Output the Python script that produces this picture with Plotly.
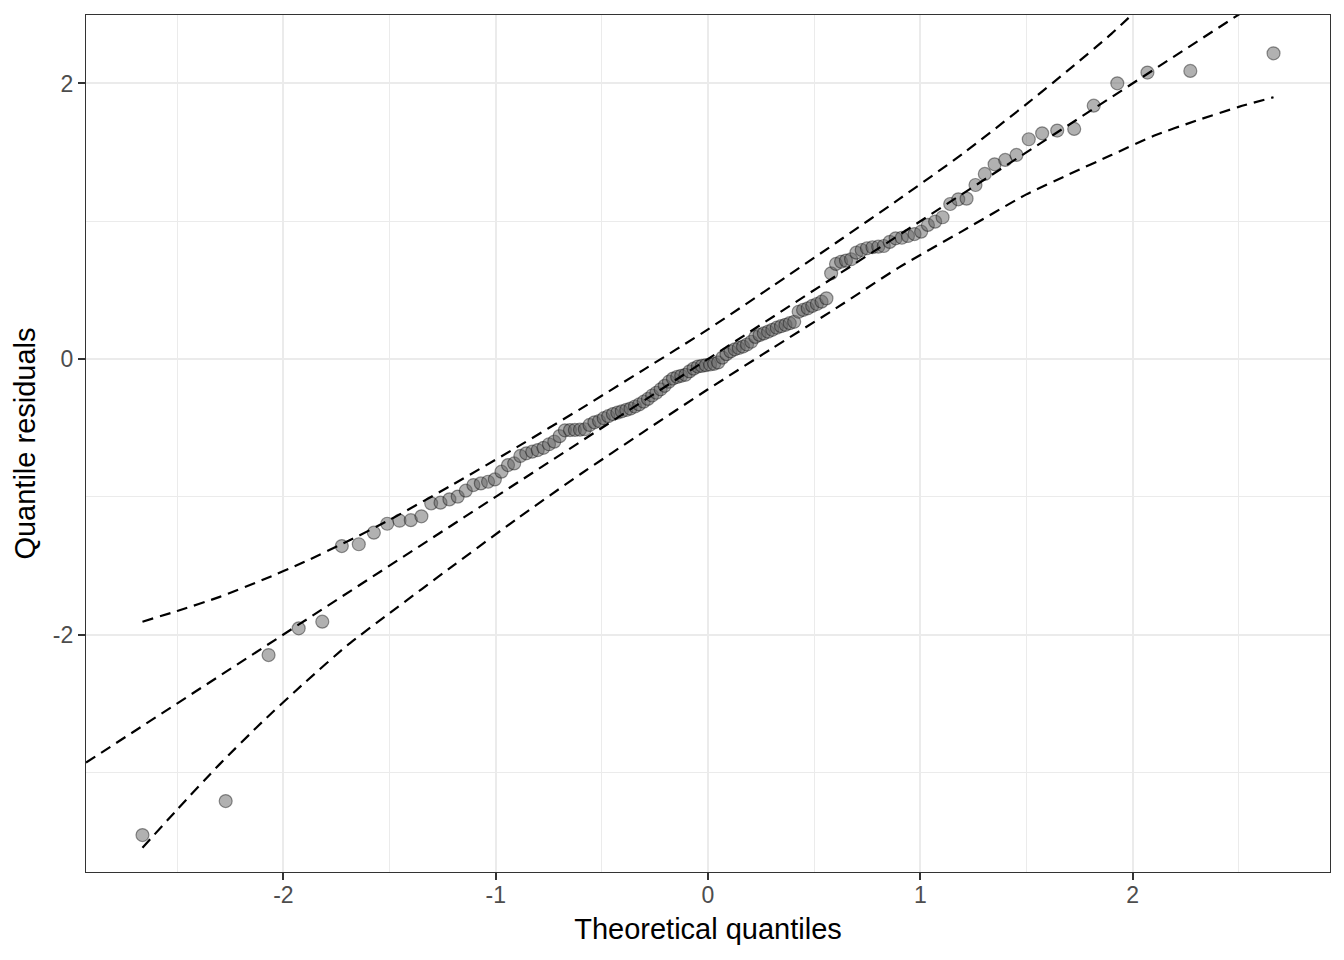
import plotly.graph_objects as go

# Theoretical normal quantiles (x of each point)
theoretical = [
    -2.664, -2.272, -2.070, -1.928, -1.817, -1.725, -1.645, -1.574, -1.511, -1.453,
    -1.400, -1.350, -1.304, -1.260, -1.218, -1.179, -1.141, -1.105, -1.070, -1.036,
    -1.004, -0.973, -0.942, -0.913, -0.884, -0.856, -0.828, -0.802, -0.775, -0.749,
    -0.724, -0.699, -0.674, -0.650, -0.627, -0.603, -0.580, -0.558, -0.535, -0.513,
    -0.491, -0.470, -0.448, -0.427, -0.406, -0.385, -0.365, -0.344, -0.324, -0.303,
    -0.283, -0.263, -0.243, -0.223, -0.204, -0.184, -0.165, -0.145, -0.126, -0.106,
    -0.087, -0.068, -0.048, -0.029, -0.010,
    0.010, 0.029, 0.048, 0.068, 0.087, 0.106, 0.126, 0.145, 0.165, 0.184,
    0.204, 0.223, 0.243, 0.263, 0.283, 0.303, 0.324, 0.344, 0.365, 0.385,
    0.406, 0.427, 0.448, 0.470, 0.491, 0.513, 0.535, 0.558, 0.580, 0.603,
    0.627, 0.650, 0.674, 0.699, 0.724, 0.749, 0.775, 0.802, 0.828, 0.856,
    0.884, 0.913, 0.942, 0.973, 1.004, 1.036, 1.070, 1.105, 1.141, 1.179,
    1.218, 1.260, 1.304, 1.350, 1.400, 1.453, 1.511, 1.574, 1.645, 1.725,
    1.817, 1.928, 2.070, 2.272, 2.664,
]

# Sorted quantile residuals (y of each point)
residuals = [
    -3.456, -3.209, -2.149, -1.955, -1.907, -1.358, -1.345, -1.261, -1.196, -1.174,
    -1.170, -1.142, -1.048, -1.043, -1.019, -0.999, -0.956, -0.915, -0.903, -0.891,
    -0.874, -0.818, -0.770, -0.758, -0.704, -0.685, -0.673, -0.661, -0.645, -0.619,
    -0.600, -0.560, -0.518, -0.516, -0.515, -0.513, -0.510, -0.479, -0.460, -0.450,
    -0.430, -0.415, -0.400, -0.390, -0.380, -0.370, -0.360, -0.345, -0.330, -0.310,
    -0.290, -0.265, -0.245, -0.220, -0.195, -0.165, -0.142, -0.130, -0.122, -0.115,
    -0.090, -0.070, -0.055, -0.050, -0.045,
    -0.040, -0.035, -0.025, 0.010, 0.035, 0.055, 0.070, 0.080, 0.090, 0.105,
    0.125, 0.160, 0.175, 0.186, 0.198, 0.212, 0.227, 0.238, 0.248, 0.260,
    0.270, 0.343, 0.356, 0.368, 0.385, 0.399, 0.416, 0.440, 0.622, 0.690,
    0.706, 0.714, 0.724, 0.772, 0.791, 0.804, 0.811, 0.815, 0.820, 0.850,
    0.876, 0.880, 0.893, 0.907, 0.924, 0.973, 0.997, 1.029, 1.125, 1.159,
    1.164, 1.263, 1.343, 1.413, 1.445, 1.481, 1.595, 1.638, 1.658, 1.670,
    1.839, 2.001, 2.079, 2.091, 2.219,
]

# Confidence band
band_x = [-2.664, -2.5, -2.3, -2.1, -1.9, -1.7, -1.5, -1.2, -0.9, -0.6, -0.3, 0.0,
          0.3, 0.6, 0.9, 1.2, 1.5, 1.7, 1.9, 2.1, 2.3, 2.5, 2.664]
band_upper = [-1.907, -1.829, -1.727, -1.605, -1.472, -1.325, -1.168, -0.910, -0.640,
              -0.362, -0.075, 0.215, 0.525, 0.840, 1.160, 1.490, 1.850, 2.100, 2.360,
              2.650, 2.960, 3.280, 3.550]
band_lower = [-3.548, -3.270, -2.941, -2.635, -2.350, -2.080, -1.845, -1.500, -1.160,
              -0.835, -0.525, -0.220, 0.075, 0.365, 0.665, 0.930, 1.195, 1.340, 1.480,
              1.620, 1.730, 1.830, 1.900]

# Reference line
ref_intercept = 0.0
ref_slope = 1.0

x_ticks = [-2, -1, 0, 1, 2]
x_tick_labels = ["-2", "-1", "0", "1", "2"]
y_ticks = [-2, 0, 2]
y_tick_labels = ["-2", "0", "2"]

x_range = [-2.930, 2.930]
y_range = [-3.724, 2.497]

FONT = "Liberation Sans, Arial, Helvetica, sans-serif"
DASH = "11px,7px"

fig = go.Figure()

fig.add_trace(go.Scatter(
    x=theoretical, y=residuals, mode="markers",
    marker=dict(size=13, color="rgba(100,100,100,0.5)",
                line=dict(color="rgba(0,0,0,0.4)", width=1.2)),
    hoverinfo="skip", showlegend=False,
))

ref_x = list(x_range)
ref_y = [ref_intercept + ref_slope * v for v in ref_x]
fig.add_trace(go.Scatter(
    x=ref_x, y=ref_y, mode="lines",
    line=dict(color="black", width=2.2, dash=DASH),
    hoverinfo="skip", showlegend=False,
))

for band in (band_upper, band_lower):
    fig.add_trace(go.Scatter(
        x=band_x, y=band, mode="lines",
        line=dict(color="black", width=2.2, dash=DASH, shape="spline", smoothing=0.6),
        hoverinfo="skip", showlegend=False,
    ))

axis_common = dict(
    showline=True, mirror=True, linecolor="#333333", linewidth=1.3,
    ticks="outside", ticklen=7, tickwidth=1.5, tickcolor="#333333",
    tickfont=dict(family=FONT, size=23, color="#4D4D4D"),
    showgrid=True, gridcolor="#EBEBEB", gridwidth=2,
    zeroline=False,
)

fig.update_xaxes(
    range=x_range, tickmode="array", tickvals=x_ticks, ticktext=x_tick_labels,
    minor=dict(showgrid=True, gridcolor="#EBEBEB", gridwidth=1, dtick=0.5, tick0=0),
    ticklabelstandoff=-5,
    title=dict(text="Theoretical quantiles", font=dict(family=FONT, size=29, color="black"),
               standoff=11),
    **axis_common,
)
fig.update_yaxes(
    range=y_range, tickmode="array", tickvals=y_ticks, ticktext=y_tick_labels,
    minor=dict(showgrid=True, gridcolor="#EBEBEB", gridwidth=1, dtick=1, tick0=0),
    title=dict(text="Quantile residuals", font=dict(family=FONT, size=29, color="black"),
               standoff=8),
    **axis_common,
)

fig.update_layout(
    width=1336, height=952,
    margin=dict(l=78, r=14, t=7, b=88, autoexpand=False),
    plot_bgcolor="white", paper_bgcolor="white",
    showlegend=False,
)

fig.write_html("out.html")
